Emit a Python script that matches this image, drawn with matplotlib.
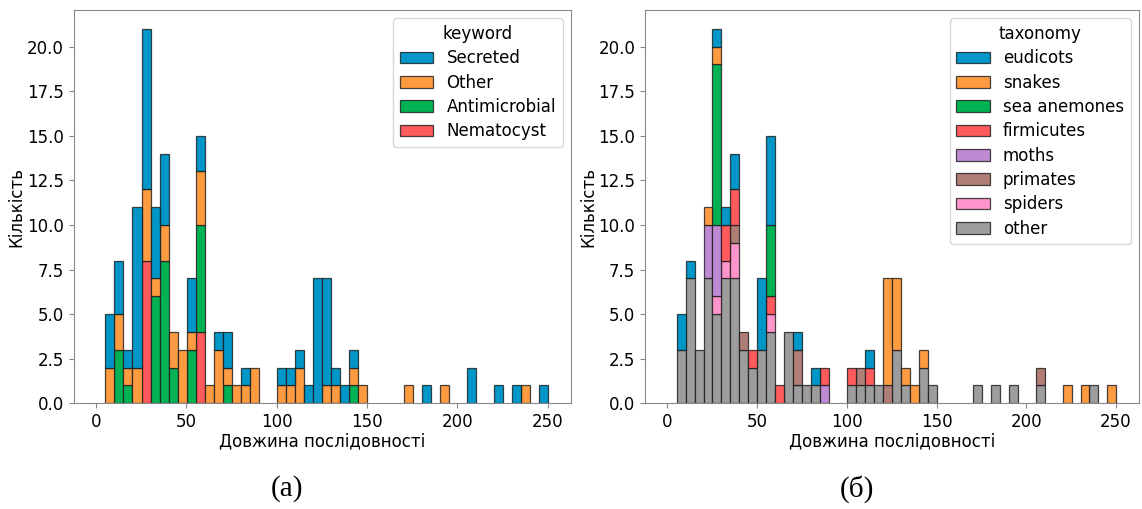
import matplotlib
matplotlib.use('Agg')

import matplotlib.pyplot as plt
import matplotlib.patches as mpatches
import numpy as np

# histogram bins that have at least one sequence (bin index, width 5 from ~5.2)
bin_idx = [0, 1, 2, 3, 4, 5, 6, 7, 8, 9, 10, 11, 12, 13, 14, 15, 16,
           19, 20, 21, 22, 23, 24, 25, 26, 27, 28,
           33, 35, 37, 40, 43, 45, 46, 48]

# panel (a): keyword, listed bottom -> top of the stack
nematocyst    = [0, 0, 0, 0, 8, 0, 0, 0, 0, 0, 4, 0, 0, 0, 0, 0, 0,
                 0, 0, 0, 0, 0, 0, 0, 0, 0, 0,
                 0, 0, 0, 0, 0, 0, 0, 0]
antimicrobial = [0, 3, 1, 0, 0, 6, 8, 2, 0, 3, 6, 0, 0, 1, 0, 0, 0,
                 0, 0, 0, 0, 0, 0, 0, 0, 1, 0,
                 0, 0, 0, 0, 0, 0, 0, 0]
other_kw      = [2, 2, 1, 2, 4, 1, 2, 2, 3, 1, 3, 1, 3, 1, 1, 1, 2,
                 1, 1, 2, 0, 0, 1, 1, 0, 1, 1,
                 1, 0, 1, 0, 0, 0, 1, 0]
secreted      = [3, 3, 1, 9, 9, 4, 4, 0, 0, 3, 2, 0, 1, 2, 0, 1, 0,
                 1, 1, 1, 1, 7, 6, 1, 1, 1, 0,
                 0, 1, 0, 2, 1, 1, 0, 1]

# panel (b): taxonomy, listed bottom -> top of the stack
tx_other      = [3, 7, 3, 7, 5, 7, 7, 3, 2, 3, 4, 0, 4, 1, 1, 1, 0,
                 1, 1, 1, 1, 0, 3, 1, 0, 2, 1,
                 1, 1, 1, 1, 0, 0, 1, 0]
spiders       = [0, 0, 0, 0, 1, 1, 2, 0, 0, 0, 1, 0, 0, 0, 0, 0, 0,
                 0, 0, 0, 0, 0, 0, 0, 0, 0, 0,
                 0, 0, 0, 0, 0, 0, 0, 0]
primates      = [0, 0, 0, 0, 0, 0, 1, 1, 0, 0, 0, 0, 0, 2, 0, 0, 0,
                 0, 1, 0, 0, 1, 0, 0, 0, 0, 0,
                 0, 0, 0, 1, 0, 0, 0, 0]
moths         = [0, 0, 0, 3, 4, 0, 0, 0, 0, 0, 0, 0, 0, 0, 0, 0, 1,
                 0, 0, 0, 0, 0, 0, 0, 0, 0, 0,
                 0, 0, 0, 0, 0, 0, 0, 0]
firmicutes    = [0, 0, 0, 0, 0, 2, 2, 0, 1, 0, 1, 1, 0, 0, 0, 0, 1,
                 1, 0, 1, 0, 0, 0, 0, 0, 0, 0,
                 0, 0, 0, 0, 0, 0, 0, 0]
sea_anemones  = [0, 0, 0, 0, 9, 0, 0, 0, 0, 0, 4, 0, 0, 0, 0, 0, 0,
                 0, 0, 0, 0, 0, 0, 0, 0, 0, 0,
                 0, 0, 0, 0, 0, 0, 0, 0]
snakes        = [0, 0, 0, 1, 1, 0, 0, 0, 0, 0, 0, 0, 0, 0, 0, 0, 0,
                 0, 0, 0, 0, 6, 4, 1, 1, 1, 0,
                 0, 0, 0, 0, 1, 1, 0, 1]
eudicots      = [2, 1, 0, 0, 1, 1, 2, 0, 0, 4, 5, 0, 0, 1, 0, 1, 0,
                 0, 0, 1, 0, 0, 0, 0, 0, 0, 0,
                 0, 0, 0, 0, 0, 0, 0, 0]

BLUE = '#0096c7'
ORANGE = '#ff9b40'
GREEN = '#00b254'
RED = '#ff5a5c'
PURPLE = '#bf8ad3'
BROWN = '#b07e76'
PINK = '#ff95cc'
GRAY = '#9d9d9d'

BIN_START = 5.2
BIN_W = 5.0

plt.rcParams['font.family'] = ['DejaVu Sans']
plt.rcParams['font.size'] = 12


def stacked_hist(ax, layers, legend_title):
    # layers: list of (label, counts, color), bottom -> top
    left = BIN_START + BIN_W * np.array(bin_idx)
    bottom = np.zeros(len(bin_idx))
    for label, counts, color in layers:
        counts = np.array(counts, dtype=float)
        mask = counts > 0
        ax.bar(left[mask], counts[mask], width=BIN_W, bottom=bottom[mask],
               align='edge', color=color, edgecolor=(0.1, 0.1, 0.1, 0.8),
               linewidth=0.9)
        bottom += counts
    ax.set_xlim(-12.4, 262.8)
    ax.set_ylim(0, 22.05)
    ax.set_yticks(np.arange(0, 20.1, 2.5))
    ax.set_xticks([0, 50, 100, 150, 200, 250])
    ax.set_xlabel('Довжина послідовності', labelpad=1)
    ax.set_ylabel('Кількість', labelpad=1)
    for sp in ax.spines.values():
        sp.set_color('#888888')
    ax.tick_params(colors='black', color='#888888')
    handles = [mpatches.Patch(facecolor=c, edgecolor=(0.1, 0.1, 0.1, 0.8),
                              linewidth=0.9, label=l)
               for l, _, c in layers[::-1]]
    ax.legend(handles=handles, title=legend_title, loc='upper right',
              fontsize=12, title_fontsize=12, labelspacing=0.38,
              borderaxespad=0.5)


fig = plt.figure(figsize=(11.42, 5.09), dpi=100)
ax1 = fig.add_axes([0.0644, 0.2077, 0.4356, 0.7727])
ax2 = fig.add_axes([0.5648, 0.2077, 0.4326, 0.7727])

stacked_hist(ax1, [('Nematocyst', nematocyst, RED),
                   ('Antimicrobial', antimicrobial, GREEN),
                   ('Other', other_kw, ORANGE),
                   ('Secreted', secreted, BLUE)], 'keyword')

stacked_hist(ax2, [('other', tx_other, GRAY),
                   ('spiders', spiders, PINK),
                   ('primates', primates, BROWN),
                   ('moths', moths, PURPLE),
                   ('firmicutes', firmicutes, RED),
                   ('sea anemones', sea_anemones, GREEN),
                   ('snakes', snakes, ORANGE),
                   ('eudicots', eudicots, BLUE)], 'taxonomy')

fig.text(0.2513, 0.040, '(а)', family='Liberation Serif', fontsize=21,
         ha='center', va='center')
fig.text(0.7505, 0.040, '(б)', family='Liberation Serif', fontsize=21,
         ha='center', va='center')

fig.savefig('out.png', dpi=100)
